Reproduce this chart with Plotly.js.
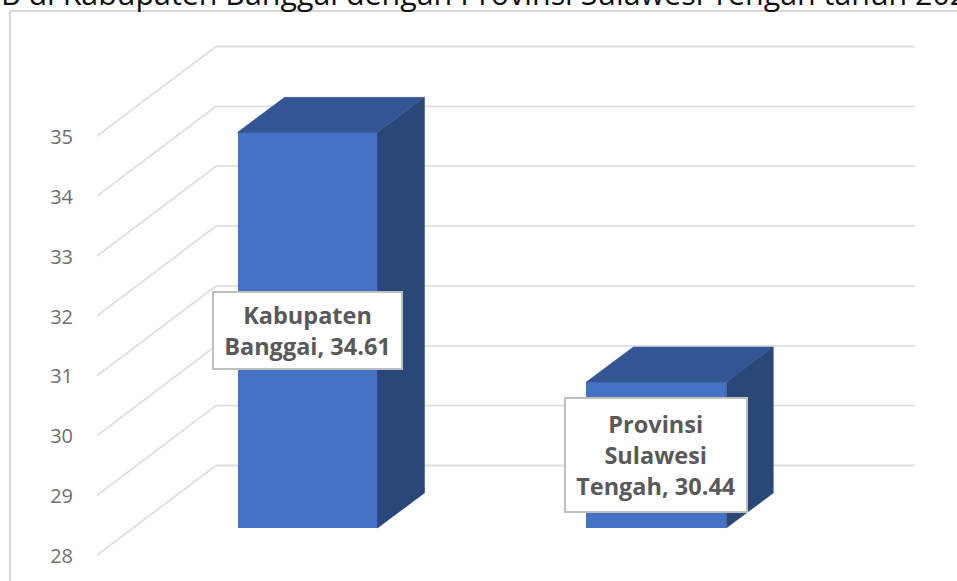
<!DOCTYPE html>
<html>
<head>
<meta charset="utf-8">
<script src="https://cdn.plot.ly/plotly-3.0.1.min.js"></script>
<style>html,body{margin:0;padding:0;background:#fff;overflow:hidden}#chart{width:957px;height:581px}</style>
</head>
<body>
<div id="chart"></div>
<script>
const categories = ['Kabupaten Banggai', 'Provinsi Sulawesi Tengah'];
const values = [34.61, 30.44];
const labelTexts = ['Kabupaten<br>Banggai, 34.61', 'Provinsi<br>Sulawesi<br>Tengah, 30.44'];
const tickValues = [28, 29, 30, 31, 32, 33, 34, 35];
const axisBase = 28;
const titleText = 'B di Kabupaten Banggai dengan Provinsi Sulawesi Tengah tahun 202';

// Geometry of the pseudo-3D projection
const W = 957, H = 581, ML = 97;
const pxPerUnit = 59.86, pxPerCat = 348.8, x0px = 307.5, y28px = 556;
const px2x = p => (p - x0px) / pxPerCat;
const dpx2x = d => d / pxPerCat;
const dpx2y = d => d / pxPerUnit;
const wallLeftPx = 216, wallRightPx = 915, frontPx = 96, wallRise = dpx2y(90.5);
const floorRise = dpx2y(28), barW = 140 / pxPerCat;
const depthX = dpx2x(47), depthY = dpx2y(35);
const grid = '#dfdfdf', gridW = 1.8;

const traces = [];
// side and top faces of each bar
categories.forEach((c, i) => {
  const l = i - barW/2, r = i + barW/2;
  const b = axisBase + floorRise, t = values[i] + floorRise;
  traces.push({type:'scatter', mode:'lines', fill:'toself', fillcolor:'#2a4779', hoverinfo:'skip', showlegend:false,
    x:[r, r+depthX, r+depthX, r, r], y:[b, b+depthY, t+depthY, t, b],
    line:{color:'#2a4779', width:0.5}});
  traces.push({type:'scatter', mode:'lines', fill:'toself', fillcolor:'#335593', hoverinfo:'skip', showlegend:false,
    x:[l, l+depthX, r+depthX, r, l], y:[t, t+depthY, t+depthY, t, t],
    line:{color:'#335593', width:0.5}});
});
// front faces
traces.push({type:'bar', x:categories.map((c,i)=>i), y:values.map(v=>v-axisBase),
  base:values.map(()=>axisBase+floorRise), width:barW, text:categories, textposition:'none',
  marker:{color:'#4472c4', line:{width:0}}, hoverinfo:'text', showlegend:false});

const annotations = categories.map((c, i) => ({
  xref:'x', yref:'y', x:i, y:(values[i]+axisBase)/2 + floorRise,
  text:labelTexts[i], showarrow:false, align:'center',
  font:{family:'"Open Sans", sans-serif', size:23.5, color:'#595959', weight:700},
  bgcolor:'#ffffff', bordercolor:'#bfbfbf', borderwidth:2, borderpad:0,
  width:[187,180][i], height:[75,112][i], valign:'middle'
}));
annotations.push({xref:'paper', yref:'paper', x:(-1-ML)/(W-ML), y:1, xanchor:'left', yanchor:'top', yshift:29,
  text:titleText, showarrow:false, font:{family:'"Open Sans", sans-serif', size:30.4, color:'#111111'}});

// wall gridlines and side diagonals, under the bars
const shapes = [];
tickValues.forEach(t => {
  shapes.push({type:'line', layer:'below', xref:'x', yref:'y', x0:px2x(frontPx), x1:px2x(wallLeftPx), y0:t, y1:t+wallRise, line:{color:grid, width:gridW}});
  shapes.push({type:'line', layer:'below', xref:'x', yref:'y', x0:px2x(wallLeftPx), x1:px2x(wallRightPx), y0:t+wallRise, y1:t+wallRise, line:{color:grid, width:gridW}});
});
shapes.push({type:'line', xref:'paper', yref:'paper', x0:(10-ML)/(W-ML), x1:(10-ML)/(W-ML), y0:0, y1:1-11/H, line:{color:'#d9d9d9', width:2}});
shapes.push({type:'line', xref:'paper', yref:'paper', x0:(10-ML)/(W-ML), x1:1, y0:1-11/H, y1:1-11/H, line:{color:'#d9d9d9', width:2}});

const layout = {
  width:W, height:H, margin:{l:ML, r:0, t:0, b:0, pad:0},
  paper_bgcolor:'#fff', plot_bgcolor:'#fff', showlegend:false, bargap:0,
  xaxis:{range:[px2x(ML), px2x(W)], visible:false, fixedrange:true},
  yaxis:{range:[axisBase-(H-y28px)/pxPerUnit, axisBase+y28px/pxPerUnit], tickmode:'array',
    tickvals:tickValues, ticktext:tickValues.map(String), showgrid:false, zeroline:false, showline:false,
    ticks:'outside', ticklen:19, tickcolor:'rgba(0,0,0,0)', tickwidth:1, fixedrange:true,
    tickfont:{family:'"Open Sans", sans-serif', size:20, color:'#6f6f6f'}},
  annotations:annotations,
  shapes:shapes
};
Plotly.newPlot('chart', traces, layout, {displayModeBar:false, responsive:false});
</script>
</body>
</html>
